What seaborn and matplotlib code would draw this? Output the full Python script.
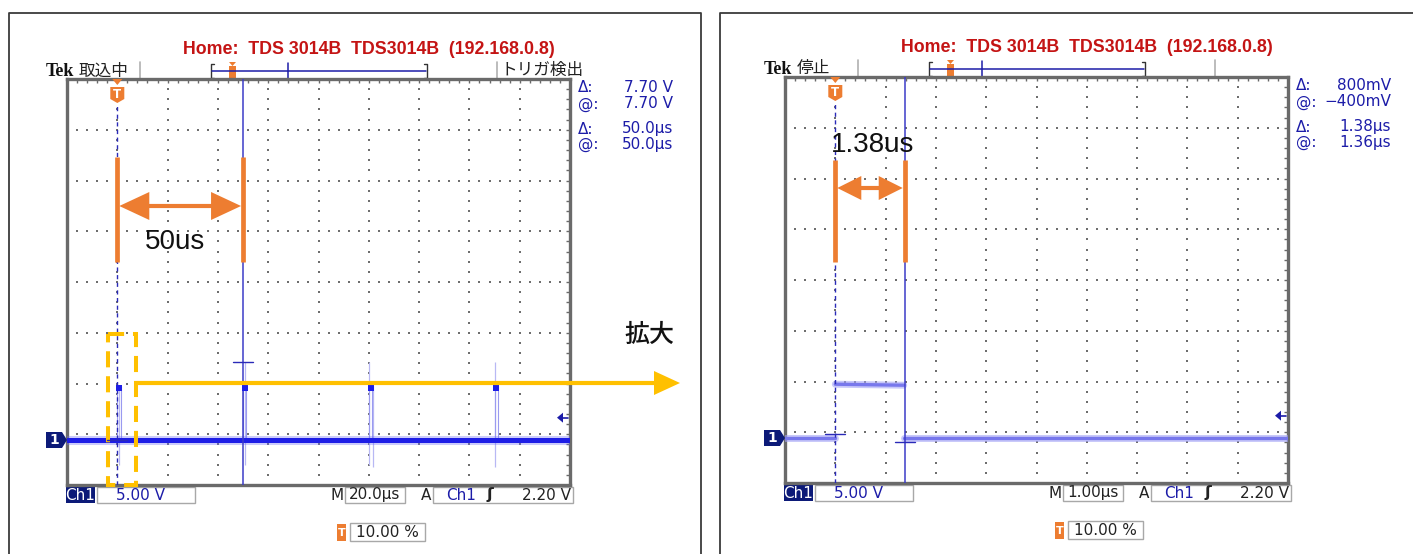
import numpy as np
import pandas as pd
import seaborn as sns
import matplotlib.pyplot as plt
from matplotlib.patches import Rectangle, Polygon

W, H = 1413, 554

# ---- values read off the two captures ----
# left capture: M 20.0us/div, Ch1 5.00 V/div, trigger at 10 %
left_base_t = [-20.0, 180.0]
left_base_v = [0.0, 0.0]
left_t = [-20.0, 0.0, 0.0, 1.36, 1.36, 50.0, 50.0, 51.36, 51.36,
          100.0, 100.0, 101.36, 101.36, 150.0, 150.0, 151.36, 151.36, 180.0]
left_v = [0.0, 0.0, 5.3, 5.3, 0.0, 0.0, 5.3, 5.3, 0.0,
          0.0, 5.3, 5.3, 0.0, 0.0, 5.3, 5.3, 0.0, 0.0]
left_top_t = [0.68, 50.68, 100.68, 150.68]
left_top_v = [5.1, 5.1, 5.1, 5.1]
left_ring_t = [0.6, 50.6, 100.0, 101.8, 150.0]
left_ring_hi = [5.3, 7.7, 7.7, 5.3, 7.7]
left_ring_lo = [-2.5, -2.5, -2.5, -2.7, -2.7]
left_cursor_t = [0.0, 50.0]
left_cursor_v = [0.0, 7.70]
left_readout = [("Δ:", "7.70 V"), ("@:", "7.70 V"), ("Δ:", "50.0µs"), ("@:", "50.0µs")]

# right capture: M 1.00us/div (one pulse, three flat segments)
right_t = [-1.0, 0.0, 0.0, 1.36, 1.36, 9.0]
right_v = [0.0, 0.0, 5.3, 5.2, 0.0, 0.0]
right_seg = [0, 0, 1, 1, 2, 2]
right_cursor_t = [0.0, 1.38]
right_cursor_v = [0.4, -0.4]
right_readout = [("Δ:", "800mV"), ("@:", "−400mV"), ("Δ:", "1.38µs"), ("@:", "1.36µs")]

TITLE = "Home:  TDS 3014B  TDS3014B  (192.168.0.8)"
ORANGE = "#ED7D31"
GOLD = "#FFC000"
NAVY = "#1c1ca8"

sns.set_style("white")
plt.rcParams["font.family"] = ["DejaVu Sans", "Noto Sans CJK JP"]

fig = plt.figure(figsize=(W / 100, H / 100), dpi=100)
bg = fig.add_axes([0, 0, 1, 1], zorder=0)
top = fig.add_axes([0, 0, 1, 1], zorder=5)
for a in (bg, top):
    a.set_xlim(0, W)
    a.set_ylim(H, 0)
    a.axis("off")
    a.patch.set_alpha(0)

# outer frames
bg.plot([9, 9, 701, 701], [556, 13, 13, 556], color="#3a3a3a", lw=1.3)
bg.plot([720, 720, 1415], [556, 13, 13], color="#3a3a3a", lw=1.3)


def draw_panel(p):
    ox, oy = p["ox"], p["oy"]
    x0, y0, x1, y1 = 67 + ox, 79 + oy, 570 + ox, 485 + oy
    tdiv = p["tdiv"]
    tmin, tmax = -tdiv, 9 * tdiv
    vmin = -(y1 - (y0 + 361)) / (y1 - y0) * 40.0
    vmax = vmin + 40.0

    def px(t, v):
        return (x0 + (t - tmin) / (tmax - tmin) * (x1 - x0),
                y1 - (v - vmin) / (vmax - vmin) * (y1 - y0))

    ax = fig.add_axes([x0 / W, 1 - y1 / H, (x1 - x0) / W, (y1 - y0) / H], zorder=2)
    ax.set_xlim(tmin, tmax)
    ax.set_ylim(vmin, vmax)
    xs_major = tmin + tdiv * np.arange(11)
    xs_minor = tmin + tdiv / 5 * np.arange(51)
    ys_major = vmin + 5 * np.arange(9)
    ys_minor = vmin + np.arange(41)
    ax.set_xticks(xs_major)
    ax.set_xticks(xs_minor, minor=True)
    ax.set_yticks(ys_major)
    ax.set_yticks(ys_minor, minor=True)
    ax.tick_params(which="both", direction="in", length=3, width=1.0, colors="#6a6a6a",
                   top=True, right=True, labelbottom=False, labelleft=False)
    for s in ax.spines.values():
        s.set_color("#6a6a6a")
        s.set_linewidth(2.4)
    for x in xs_major[1:-1]:
        ax.plot(np.full(len(ys_minor), x), ys_minor, ls="none", marker="s", ms=1.5,
                mew=0, color="#6e6e6e")
    for y in ys_major[1:-1]:
        ax.plot(xs_minor, np.full(len(xs_minor), y), ls="none", marker="s", ms=1.5,
                mew=0, color="#6e6e6e")

    # header
    bg.text(369 + ox, 49 + oy, TITLE, ha="center", va="center", color="#c41414",
            family="Liberation Sans", weight="bold", fontsize=12.8)
    bg.text(46 + ox, 71 + oy, "Tek", ha="left", va="center", family="Liberation Serif",
            weight="bold", fontsize=13, color="#111111")
    bg.text(79 + ox, 71 + oy, p["mode"], ha="left", va="center",
            family="Noto Sans CJK JP", fontsize=12, color="#222222")
    for sx in (140, 497):
        bg.plot([sx + ox, sx + ox], [62 + oy, 78 + oy], color="#b0b0b0", lw=1.2)
    bg.plot([214 + ox, 211 + ox, 211 + ox, 214 + ox], [64 + oy, 64 + oy, 78 + oy, 78 + oy],
            color="#333333", lw=1)
    bg.plot([424 + ox, 427 + ox, 427 + ox, 424 + ox], [64 + oy, 64 + oy, 78 + oy, 78 + oy],
            color="#333333", lw=1)
    bg.plot([212 + ox, 426 + ox], [71 + oy, 71 + oy], color=NAVY, lw=1.1)
    bg.plot([p["view"] + ox, p["view"] + ox], [63 + oy, 79 + oy], color=NAVY, lw=1.1)
    bg.add_patch(Rectangle((229 + ox, 66 + oy), 7, 12, fc=ORANGE, ec="none"))
    bg.add_patch(Polygon([(229 + ox, 62 + oy), (236 + ox, 62 + oy), (232.5 + ox, 66 + oy)],
                         fc=ORANGE, ec="none"))
    if p["trig"]:
        bg.text(501 + ox, 70 + oy, p["trig"], ha="left", va="center",
                family="Noto Sans CJK JP", fontsize=12, color="#222222")

    # readouts
    for (lab, val), ry in zip(p["readout"], [88, 104, 129, 145]):
        bg.text(578 + ox, ry + oy, lab, ha="left", va="center", color=NAVY, fontsize=11)
        bg.text(673 + ox, ry + oy, val, ha="right", va="center", color=NAVY, fontsize=11)

    # bottom bar
    by = 487 + oy
    bg.add_patch(Rectangle((66 + ox, by), 29, 16, fc="#0c1a78", ec="none"))
    bg.text(80.5 + ox, by + 8, "Ch1", ha="center", va="center", color="white", fontsize=11)
    bg.add_patch(Rectangle((97 + ox, by), 98, 16, fc="white", ec="#a8a8a8", lw=1))
    bg.text(140 + ox, by + 8, "5.00 V", ha="center", va="center", color=NAVY, fontsize=11)
    bg.text(337 + ox, by + 8, "M", ha="center", va="center", color="#222222", fontsize=11)
    bg.add_patch(Rectangle((345 + ox, by), 60, 16, fc="white", ec="#a8a8a8", lw=1))
    bg.text(375 + ox, by + 8, p["mtxt"], ha="center", va="center", color="#222222", fontsize=11)
    bg.text(426 + ox, by + 8, "A", ha="center", va="center", color="#222222", fontsize=11)
    bg.add_patch(Rectangle((433 + ox, by), 140, 16, fc="white", ec="#a8a8a8", lw=1))
    bg.text(461 + ox, by + 8, "Ch1", ha="center", va="center", color=NAVY, fontsize=11)
    bg.text(490 + ox, by + 8, "ʃ", ha="center", va="center", color="#222222", fontsize=11.5,
            weight="bold")
    bg.text(571 + ox, by + 8, "2.20 V", ha="right", va="center", color="#222222", fontsize=11)
    ty = 523 + oy
    bg.add_patch(Rectangle((337 + ox, ty + 1), 9, 17, fc=ORANGE, ec="none"))
    bg.text(341.5 + ox, ty + 10, "T", ha="center", va="center", color="white", fontsize=8,
            weight="bold")
    bg.add_patch(Rectangle((350 + ox, ty), 75, 18, fc="white", ec="#a8a8a8", lw=1))
    bg.text(387 + ox, ty + 9.5, "10.00 %", ha="center", va="center", color="#222222",
            fontsize=11)

    # trigger T marker at t = 0
    tx, _ = px(0.0, 0.0)
    top.add_patch(Polygon([(tx - 5, y0), (tx + 5, y0), (tx, y0 + 6)], fc=ORANGE, ec="none"))
    top.add_patch(Polygon([(tx - 7, y0 + 8), (tx + 7, y0 + 8), (tx + 7, y0 + 20),
                           (tx, y0 + 24), (tx - 7, y0 + 20)], fc=ORANGE, ec="none"))
    top.text(tx, y0 + 15, "T", ha="center", va="center", color="white", fontsize=8.5,
             weight="bold")

    # ground marker "1"
    _, gy = px(0.0, 0.0)
    top.add_patch(Polygon([(x0 - 21, gy - 8), (x0 - 5, gy - 8), (x0, gy), (x0 - 5, gy + 8),
                           (x0 - 21, gy + 8)], fc="#0c1a78", ec="none"))
    top.text(x0 - 13, gy, "1", ha="center", va="center", color="white", fontsize=10,
             weight="bold")

    # trigger level arrow (2.20 V)
    _, ly = px(0.0, 2.20)
    top.add_patch(Polygon([(x1 - 13, ly), (x1 - 7, ly - 5), (x1 - 7, ly + 5)], fc=NAVY, ec="none"))
    top.plot([x1 - 8, x1 - 2], [ly, ly], color=NAVY, lw=1.2)

    # cursors
    ct, cv = p["cursor_t"], p["cursor_v"]
    ax.axvline(ct[0], ymax=(y1 - (y0 + 25)) / (y1 - y0), color="#2a2ab8", lw=1,
               ls=(0, (3, 2.5)), zorder=4)
    ax.axvline(ct[1], color="#3c3cc8", lw=1.1, zorder=4)
    for t, v in zip(ct, cv):
        cx, cy = px(t, v)
        top.plot([cx - 10, cx + 10], [cy, cy], color="#2a2ab8", lw=1)

    return ax, px


panels = [
    dict(ox=0, oy=0, tdiv=20.0, mode="取込中", trig="トリガ検出", view=288, mtxt="20.0µs",
         readout=left_readout, cursor_t=left_cursor_t, cursor_v=left_cursor_v),
    dict(ox=718, oy=-2, tdiv=1.0, mode="停止", trig="", view=264, mtxt="1.00µs",
         readout=right_readout, cursor_t=right_cursor_t, cursor_v=right_cursor_v),
]

# ---- left capture ----
axL, pxL = draw_panel(panels[0])
axL.vlines(left_ring_t, left_ring_lo, left_ring_hi, color="#b8b8f4", lw=0.9, zorder=2)
sns.lineplot(data=pd.DataFrame({"t": left_t, "v": left_v}), x="t", y="v", ax=axL,
             estimator=None, sort=False, color="#9a9af0", lw=0.8, zorder=3)
base = pd.DataFrame({"t": left_base_t, "v": left_base_v})
sns.lineplot(data=base, x="t", y="v", ax=axL, estimator=None, sort=False,
             color="#6a6af5", lw=6.5, alpha=0.35, zorder=3)
sns.lineplot(data=base, x="t", y="v", ax=axL, estimator=None, sort=False,
             color="#1e1ee6", lw=3.6, zorder=3)
sns.scatterplot(x=left_top_t, y=left_top_v, ax=axL, color="#1e1ee6", marker="s", s=18,
                linewidth=0, zorder=5)
axL.set_xlabel("")
axL.set_ylabel("")

# ---- right capture ----
axR, pxR = draw_panel(panels[1])
trace = pd.DataFrame({"t": right_t, "v": right_v, "seg": right_seg})
sns.lineplot(data=trace, x="t", y="v", units="seg", ax=axR, estimator=None, sort=False,
             color="#a4a4f6", lw=5.0, alpha=0.6, zorder=3)
sns.lineplot(data=trace, x="t", y="v", units="seg", ax=axR, estimator=None, sort=False,
             color="#7878ec", lw=2.4, zorder=3)
axR.set_xlabel("")
axR.set_ylabel("")


# ---- hand-drawn annotations ----
def double_arrow(xa, xb, y, hl, hw):
    top.plot([xa + hl - 2, xb - hl + 2], [y, y], color=ORANGE, lw=3)
    top.add_patch(Polygon([(xa, y), (xa + hl, y - hw), (xa + hl, y + hw)], fc=ORANGE, ec="none"))
    top.add_patch(Polygon([(xb, y), (xb - hl, y - hw), (xb - hl, y + hw)], fc=ORANGE, ec="none"))


xa, _ = pxL(left_cursor_t[0], 0)
xb, _ = pxL(left_cursor_t[1], 0)
for x in (xa, xb):
    top.plot([x, x], [157, 262], color=ORANGE, lw=3.4, solid_capstyle="butt")
double_arrow(xa + 2, xb - 2, 206, 30, 14)
top.text(175, 242, "50us", ha="center", va="center", family="Liberation Sans",
         fontsize=20, color="#111111")

xa, _ = pxR(right_cursor_t[0], 0)
xb, _ = pxR(right_cursor_t[1], 0)
for x in (xa, xb):
    top.plot([x, x], [160, 262], color=ORANGE, lw=3.4, solid_capstyle="butt")
double_arrow(xa + 2, xb - 2, 188, 24, 12)
top.text(873, 145, "1.38us", ha="center", va="center", family="Liberation Sans",
         fontsize=20, color="#111111")

top.add_patch(Rectangle((108, 334), 28, 151, fill=False, ec=GOLD, lw=2.9,
                        ls=(0, (4, 2.2)), joinstyle="miter"))
top.plot([138, 656], [383, 383], color=GOLD, lw=3)
top.add_patch(Polygon([(680, 383), (654, 371), (654, 395)], fc=GOLD, ec="none"))
top.text(649, 335, "拡大", ha="center", va="center", family="Noto Sans CJK JP",
         fontsize=18, weight="medium", color="#111111")

fig.savefig("out.png", dpi=100)
